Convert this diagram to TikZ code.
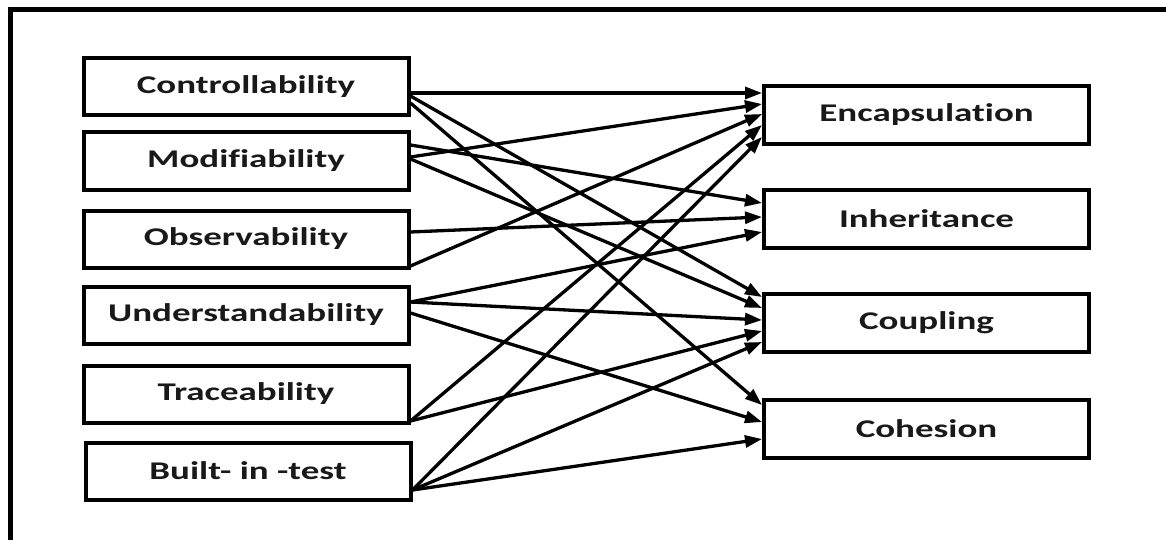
\documentclass[tikz,border=0pt]{standalone}
\usepackage{fontspec}
\newfontfamily\lab[FakeStretch=1.45,RawFeature={-liga;-clig;-calt}]{Carlito}
\usetikzlibrary{arrows.meta}
\begin{document}
\begin{tikzpicture}[x=1pt,y=-1pt,
  box/.style={draw=black,line width=4pt,minimum width=325pt,minimum height=57pt,inner sep=0pt,
    font=\lab\bfseries\fontsize{25.5}{29}\selectfont,text=black!90},
  arr/.style={line width=3.3pt,-{Triangle[length=17pt,width=12pt]}}]
\useasboundingbox (0,0) rectangle (1166,540);
\draw[line width=5pt] (10,540) -- (10,10) -- (1166,10);
% left column
\node[box] (ctrl) at (246,87) {Controllability};
\node[box] (mod) at (246,161) {Modifiability};
\node[box] (obs) at (246,239) {Observability};
\node[box] (und) at (246,315) {Understandability};
\node[box] (trc) at (246,394) {Traceability};
\node[box] (bit) at (248,471) {Built- in -test};
% right column
\node[box,minimum height=58pt] (enc) at (926.5,115) {Encapsulation};
\node[box,minimum height=58pt] (inh) at (926.5,219) {Inheritance};
\node[box,minimum height=58pt] (cpl) at (926.5,322.5) {Coupling};
\node[box,minimum height=58pt] (coh) at (926.5,428.5) {Cohesion};
% connectors
\draw[arr] ([yshift=-6pt]ctrl.east) -- ([yshift=22pt]enc.west);
\draw[arr] ([yshift=-9pt]ctrl.east) -- ([yshift=25.5pt]cpl.west);
\draw[arr] ([yshift=-16pt]ctrl.east) -- ([yshift=23.5pt]coh.west);
\draw[arr] ([yshift=16pt]mod.east) -- ([yshift=16pt]inh.west);
\draw[arr] ([yshift=4pt]mod.east) -- ([yshift=11pt]enc.west);
\draw[arr] ([yshift=2pt]mod.east) -- ([yshift=14.5pt]cpl.west);
\draw[arr] ([yshift=7pt]obs.east) -- ([yshift=2pt]inh.west);
\draw[arr] ([yshift=-27pt]obs.east) -- ([yshift=1pt]enc.west);
\draw[arr] ([yshift=13pt]und.east) -- ([yshift=-13pt]inh.west);
\draw[arr] ([yshift=13pt]und.east) -- ([yshift=2.5pt]cpl.west);
\draw[arr] ([yshift=2pt]und.east) -- ([yshift=6.5pt]coh.west);
\draw[arr] ([yshift=-27pt]trc.east) -- ([yshift=-10pt]enc.west);
\draw[arr] ([yshift=-27pt]trc.east) -- ([yshift=-8.5pt]cpl.west);
\draw[arr] ([yshift=-19pt]bit.east) -- ([yshift=-22pt]enc.west);
\draw[arr] ([yshift=-19pt]bit.east) -- ([yshift=-19.5pt]cpl.west);
\draw[arr] ([yshift=-19pt]bit.east) -- ([yshift=-10.5pt]coh.west);
\end{tikzpicture}
\end{document}
